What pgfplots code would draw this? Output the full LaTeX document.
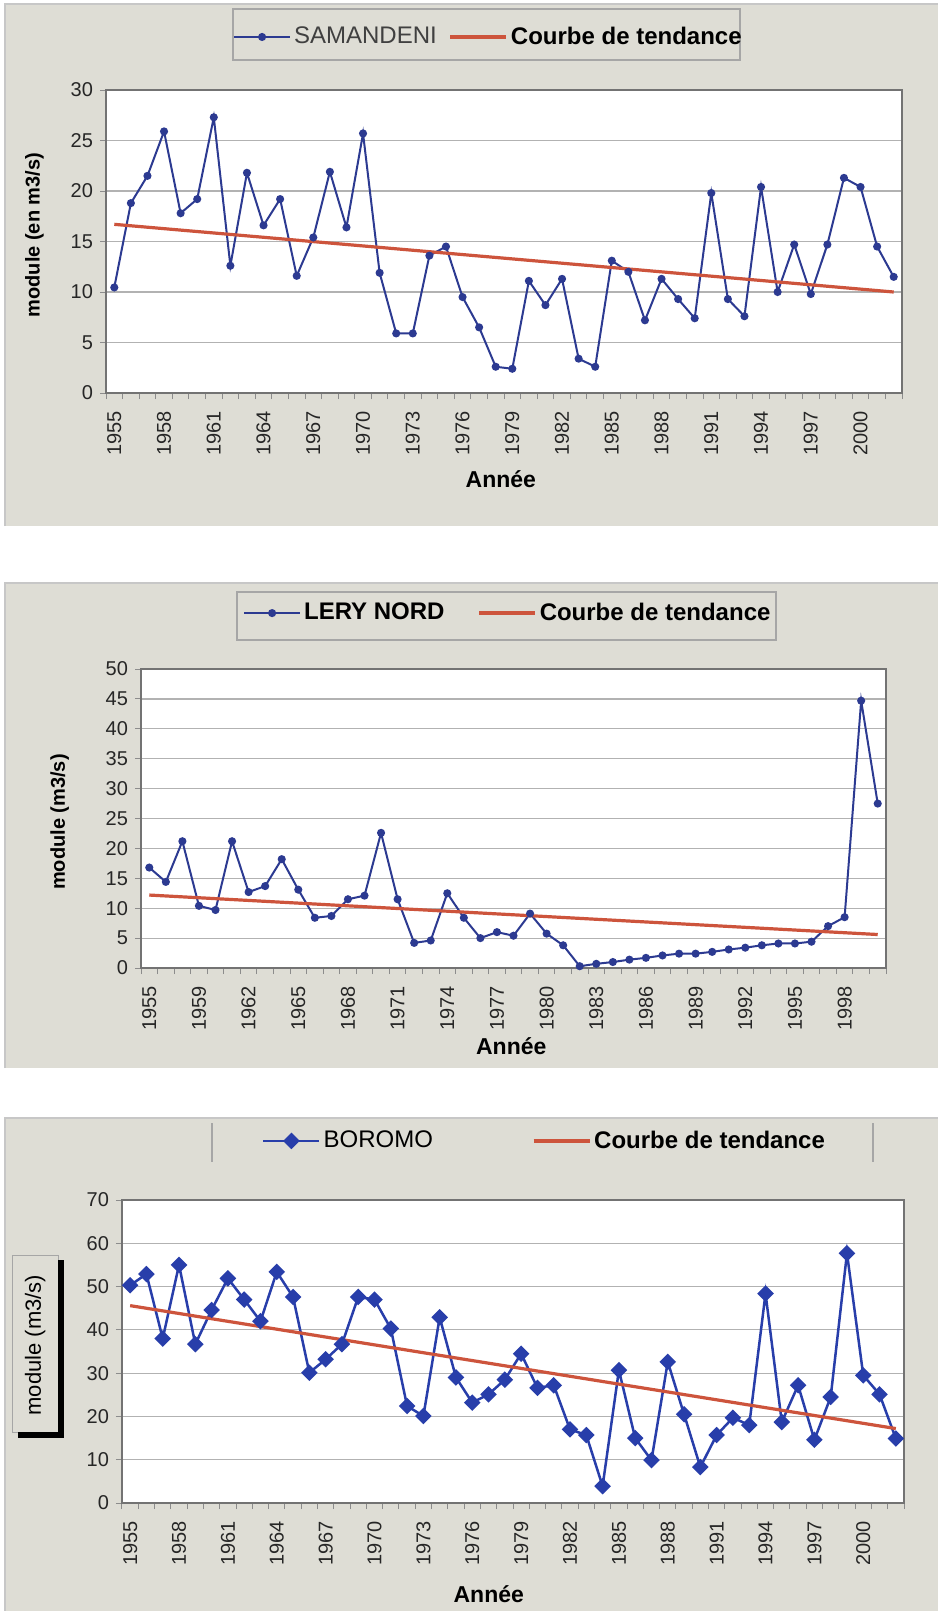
\documentclass[border=0pt]{standalone}
\usepackage{fontspec}
\setmainfont{Liberation Sans}
\usepackage{pgfplots}
\pgfplotsset{compat=1.18}
\usepackage{pgfplotstable}

\definecolor{panel}{RGB}{222,221,213}
\definecolor{serie}{RGB}{44,58,145}
\definecolor{serieB}{RGB}{40,62,170}
\definecolor{tend}{RGB}{205,84,60}
\definecolor{gridc}{RGB}{178,178,178}

% Modules annuels (m3/s), une ligne par annee (indice de categorie)
\pgfplotstableread{
i v
0 10.45
1 18.8
2 21.5
3 25.9
4 17.8
5 19.2
6 27.3
7 12.6
8 21.8
9 16.6
10 19.2
11 11.6
12 15.4
13 21.9
14 16.4
15 25.7
16 11.9
17 5.9
18 5.9
19 13.6
20 14.5
21 9.5
22 6.5
23 2.6
24 2.4
25 11.1
26 8.7
27 11.3
28 3.4
29 2.6
30 13.1
31 12.0
32 7.2
33 11.3
34 9.3
35 7.4
36 19.8
37 9.3
38 7.6
39 20.4
40 10.0
41 14.7
42 9.8
43 14.7
44 21.3
45 20.4
46 14.5
47 11.5
}\samandeni

\pgfplotstableread{
i v
0 16.8
1 14.4
2 21.2
3 10.4
4 9.7
5 21.2
6 12.7
7 13.7
8 18.2
9 13.1
10 8.4
11 8.7
12 11.5
13 12.1
14 22.6
15 11.5
16 4.2
17 4.6
18 12.5
19 8.4
20 5.0
21 6.0
22 5.4
23 9.1
24 5.75
25 3.8
26 0.3
27 0.7
28 1.0
29 1.4
30 1.7
31 2.1
32 2.4
33 2.4
34 2.7
35 3.1
36 3.4
37 3.8
38 4.1
39 4.1
40 4.4
41 7.0
42 8.5
43 44.7
44 27.5
}\lerynord

\pgfplotstableread{
i v
0 50.3
1 52.9
2 38.0
3 55.0
4 36.7
5 44.6
6 51.9
7 47.0
8 42.0
9 53.4
10 47.6
11 30.1
12 33.2
13 36.7
14 47.6
15 47.0
16 40.3
17 22.4
18 20.1
19 42.9
20 29.0
21 23.2
22 25.1
23 28.5
24 34.5
25 26.6
26 27.2
27 17.0
28 15.7
29 3.9
30 30.7
31 15.0
32 9.9
33 32.6
34 20.5
35 8.3
36 15.7
37 19.7
38 18.0
39 48.4
40 18.7
41 27.2
42 14.6
43 24.5
44 57.7
45 29.5
46 25.1
47 14.9
}\boromo

\pgfplotsset{
  module/.style={
    scale only axis,
    axis background/.style={fill=white},
    axis line style={draw=black!55, line width=0.6pt},
    tick pos=left,
    tick align=outside,
    ymajorgrids,
    grid style={draw=gridc, line width=0.6pt},
    major tick length=3pt,
    minor tick length=3pt,
    major x tick style={draw=none},
    minor x tick style={draw=black!45, line width=0.5pt},
    major y tick style={draw=black!45, line width=0.5pt},
    tick label style={font=\fontsize{10}{12}\selectfont, text=black!85},
    x tick label style={rotate=90, anchor=east},
    xticklabel shift=2.5pt,
    /pgf/number format/assume math mode=true,
    xlabel style={font=\bfseries\fontsize{11.5}{13}\selectfont, anchor=center},
    ylabel style={font=\bfseries\fontsize{10}{12}\selectfont, anchor=center},
    legend style={draw=none, fill=none, anchor=center,
      font=\fontsize{12}{14}\selectfont, legend columns=2,
      nodes={inner sep=1.5pt}},
    legend image code/.code={\draw[mark repeat=2,mark phase=2,##1]
      plot coordinates {(0pt,0pt) (14pt,0pt) (28pt,0pt)};},
  },
  serie/.style={color=serie, line width=1pt, mark=*, mark size=1.5pt},
  tendance/.style={color=tend, line width=1.6pt, no markers},
}

\begin{document}
\begin{tikzpicture}
\useasboundingbox (0,0) rectangle (469pt,-805.5pt);

% fonds des trois graphiques
\fill[panel] (2.5pt,-2pt) rectangle (469pt,-263pt);
\fill[panel] (2.5pt,-291.5pt) rectangle (469pt,-534pt);
\fill[panel] (2.5pt,-559pt) rectangle (469pt,-805.5pt);
\draw[black!22, line width=0.8pt] (2.5pt,-263pt) -- (2.5pt,-2pt) -- (469pt,-2pt);
\draw[black!22, line width=0.8pt] (2.5pt,-534pt) -- (2.5pt,-291.5pt) -- (469pt,-291.5pt);
\draw[black!22, line width=0.8pt] (2.5pt,-805.5pt) -- (2.5pt,-559pt) -- (469pt,-559pt);

% cadres des legendes
\draw[black!35, line width=0.6pt] (116.5pt,-4.5pt) rectangle (370pt,-30pt);
\draw[black!35, line width=0.6pt] (118.5pt,-296pt) rectangle (388pt,-320pt);
\draw[black!35, line width=0.6pt] (106pt,-561.5pt) -- (106pt,-581pt);
\draw[black!35, line width=0.6pt] (436.5pt,-561.5pt) -- (436.5pt,-581pt);

% cadre de l'intitule de l'axe vertical (BOROMO)
\draw[black!35, line width=0.5pt] (6pt,-627.5pt) rectangle (29pt,-716pt);
\fill[black] (29pt,-630pt) rectangle (32pt,-719pt);
\fill[black] (9pt,-716pt) rectangle (32pt,-719pt);

% ---------------- SAMANDENI ----------------
\begin{axis}[module,
  at={(53pt,-196.5pt)}, anchor=south west,
  width=398pt, height=151.5pt,
  xmin=-0.5, xmax=47.5, ymin=0, ymax=30,
  ytick={0,5,...,30},
  xtick={0,3,...,45},
  xticklabels={1955,1958,1961,1964,1967,1970,1973,1976,1979,1982,1985,1988,1991,1994,1997,2000},
  minor xtick={-0.5,0.5,...,47.5},
  xlabel={Année}, ylabel={module (en m3/s)},
  xlabel style={at={(axis description cs:0.496,-0.285)}},
  ylabel style={at={(axis description cs:-0.09,0.521)}},
  legend style={at={(0.481,1.175)},
    /tikz/every even column/.append style={column sep=4.5pt}},
]
\addplot[serie] table[x=i, y=v] {\samandeni};
\addlegendentry{\textcolor{black!75}{SAMANDENI}}
\addplot[tendance] coordinates {(0,16.7) (47,10.0)};
\addlegendentry{\textbf{Courbe de tendance}}
\end{axis}

% ---------------- LERY NORD ----------------
\begin{axis}[module,
  at={(70.5pt,-484pt)}, anchor=south west,
  width=372.5pt, height=149.5pt,
  xmin=-0.5, xmax=44.5, ymin=0, ymax=50,
  ytick={0,5,...,50},
  xtick={0,3,...,42},
  xticklabels={1955,1959,1962,1965,1968,1971,1974,1977,1980,1983,1986,1989,1992,1995,1998},
  minor xtick={-0.5,0.5,...,44.5},
  xlabel={Année}, ylabel={module (m3/s)},
  xlabel style={at={(axis description cs:0.497,-0.262)}},
  ylabel style={at={(axis description cs:-0.109,0.488)}},
  legend style={at={(0.493,1.187)},
    /tikz/every even column/.append style={column sep=15pt}},
]
\addplot[serie] table[x=i, y=v] {\lerynord};
\addlegendentry{\textbf{LERY NORD}}
\addplot[tendance] coordinates {(0,12.2) (44,5.6)};
\addlegendentry{\textbf{Courbe de tendance}}
\end{axis}

% ---------------- BOROMO ----------------
\begin{axis}[module,
  at={(61pt,-751.5pt)}, anchor=south west,
  width=391pt, height=151.5pt,
  xmin=-0.5, xmax=47.5, ymin=0, ymax=70,
  ytick={0,10,...,70},
  xtick={0,3,...,45},
  xticklabels={1955,1958,1961,1964,1967,1970,1973,1976,1979,1982,1985,1988,1991,1994,1997,2000},
  minor xtick={-0.5,0.5,...,47.5},
  xlabel={Année}, ylabel={module (m3/s)},
  xlabel style={at={(axis description cs:0.469,-0.30)}},
  ylabel style={at={(axis description cs:-0.111,0.521)},
    font=\fontsize{11}{13}\selectfont},
  legend style={at={(0.541,1.195)},
    /tikz/every even column/.append style={column sep=48pt}},
]
\addplot[color=serieB, line width=1.25pt, mark=square*,
  mark size=2.3pt, mark options={rotate=45}] table[x=i, y=v] {\boromo};
\addlegendentry{BOROMO}
\addplot[tendance] coordinates {(0,45.6) (47,17.2)};
\addlegendentry{\textbf{Courbe de tendance}}
\end{axis}
\end{tikzpicture}
\end{document}
